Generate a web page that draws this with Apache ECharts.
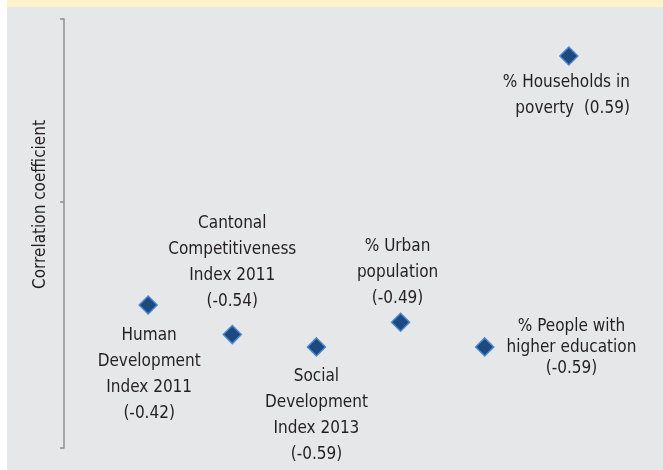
<!DOCTYPE html>
<html>
<head>
<meta charset="utf-8">
<script src="https://cdn.jsdelivr.net/npm/echarts@6/dist/echarts.min.js"></script>
<style>
  html, body { margin: 0; padding: 0; background: #ffffff; }
  #chart { width: 663px; height: 470px; }
</style>
</head>
<body>
<div id="chart"></div>
<script>
// indicators along the x axis (1..6) and their correlation coefficients
const indicators = [
  'Human\nDevelopment\nIndex 2011',
  'Cantonal\nCompetitiveness\nIndex 2011',
  'Social\nDevelopment\nIndex 2013',
  '% Urban\npopulation',
  '% People with\nhigher education',
  '% Households in\npoverty'
];
const positions = [1, 2, 3, 4, 5, 6];
const coefficients = [-0.42, -0.54, -0.59, -0.49, -0.59, 0.59];
const yTicks = [-1, 0, 0.74];

// where each label sits around its marker
const labelLayout = [
  { position: 'bottom', distance: 8, offset: [1, 0], sep: '\n' },
  { position: 'top', distance: 10, offset: [0, 0], sep: '\n' },
  { position: 'bottom', distance: 7, offset: [0, 0], sep: '\n' },
  { position: 'top', distance: 1, offset: [-3, 0], sep: '\n' },
  { position: 'right', distance: 77, offset: [0, 1], sep: '\n', lineHeight: 21 },
  { position: 'bottom', distance: 4, offset: [61, 0], sep: '  ', align: 'right' }
];

const FONT = '"Liberation Sans Narrow", "DejaVu Sans Condensed", sans-serif';
const TEXT = '#231f20';

const chart = echarts.init(document.getElementById('chart'));

const points = coefficients.map((v, i) => {
  const l = labelLayout[i];
  return {
    value: [positions[i], v],
    label: {
      show: true,
      position: l.position,
      distance: l.distance,
      offset: l.offset,
      align: l.align || 'center',
      color: TEXT,
      fontFamily: FONT,
      fontSize: 17,
      lineHeight: l.lineHeight || 26,
      formatter: indicators[i] + l.sep + '(' + v.toFixed(2) + ')'
    }
  };
});

chart.setOption({
  backgroundColor: '#ffffff',
  animation: false,
  graphic: [
    { type: 'rect', left: 7, top: 0, shape: { width: 656, height: 7 }, style: { fill: '#fdf3cb' }, z: -10 },
    { type: 'rect', left: 7, top: 7, shape: { width: 656, height: 463 }, style: { fill: '#e6e7e9' }, z: -10 }
  ],
  grid: { left: 64, right: 10, top: 19, bottom: 22 },
  xAxis: {
    type: 'value',
    min: 0,
    max: 7,
    show: false
  },
  yAxis: {
    type: 'value',
    min: -1,
    max: 0.74,
    name: 'Correlation coefficient',
    nameLocation: 'middle',
    nameGap: 15,
    nameTextStyle: { fontFamily: FONT, fontSize: 17, color: TEXT, padding: [0, 0, 0, 58] },
    axisLine: { show: true, lineStyle: { color: '#8d8f92', width: 1.5 } },
    axisTick: { show: true, length: 4, customValues: yTicks, lineStyle: { color: '#8d8f92', width: 1.5 } },
    axisLabel: { show: false },
    splitLine: { show: false }
  },
  series: [{
    type: 'scatter',
    symbol: 'diamond',
    symbolSize: 18,
    itemStyle: { color: '#1c4a80', borderColor: '#4c86cf', borderWidth: 1.5, opacity: 1 },
    data: points
  }]
});
</script>
</body>
</html>
